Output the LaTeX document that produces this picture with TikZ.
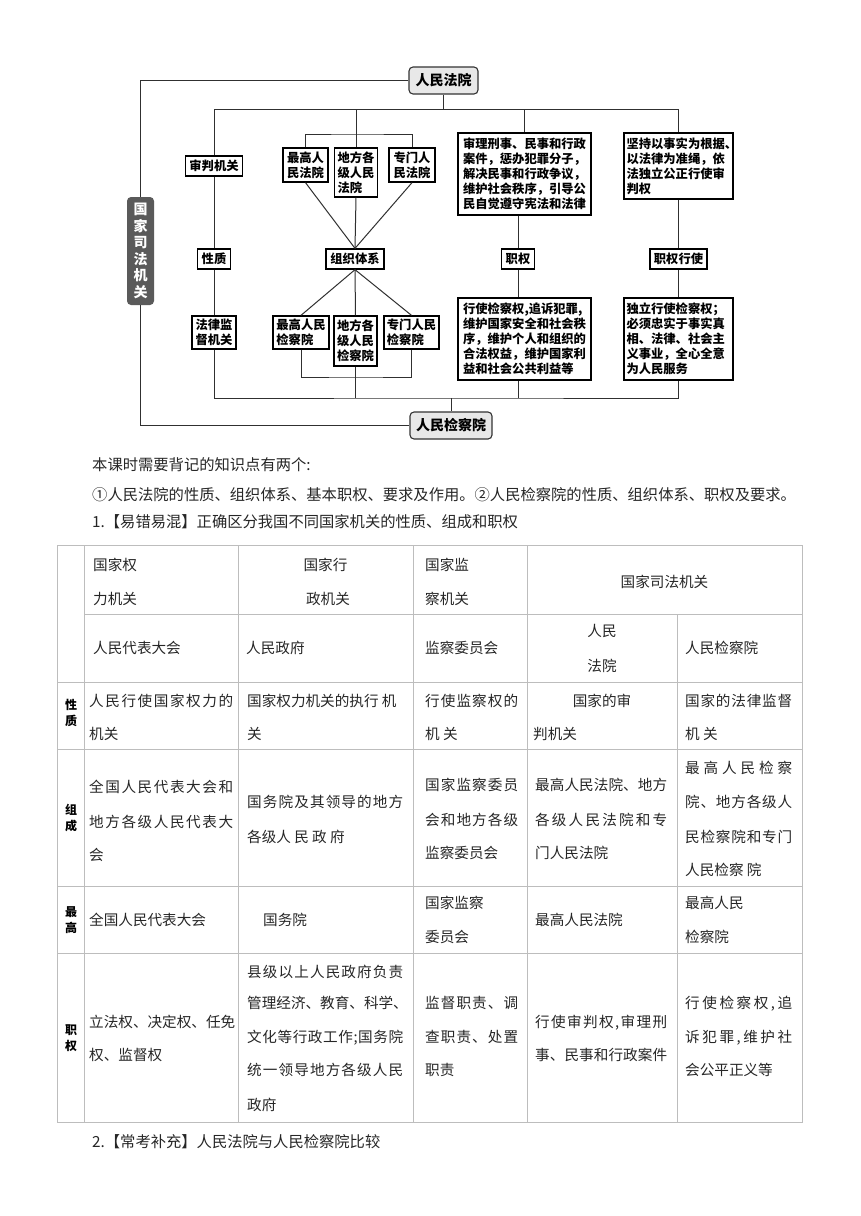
\documentclass[tikz,border=0pt]{standalone}
\usepackage{fontspec}
\setmainfont{Noto Sans CJK SC}
\newcommand\spr[2]{\hbox to #1{\sprA#2\relax}}
\def\sprA#1{#1\sprB}
\def\sprB#1{\ifx\relax#1\else\hfil#1\expandafter\sprB\fi}
\definecolor{tline}{HTML}{BDBDBD}
\definecolor{txt}{HTML}{262626}
\definecolor{conn}{HTML}{303030}
\definecolor{hdrfill}{HTML}{E8E8E8}
\definecolor{darkfill}{HTML}{5A5A5A}
\begin{document}
\begin{tikzpicture}[x=1pt,y=-1pt,
  box/.style={draw=black, line width=1.3pt, align=left, inner sep=0pt, font=\fontsize{12.3}{15}\selectfont\bfseries},
  hdr/.style={draw=black!80, line width=1.1pt, rounded corners=4pt, fill=hdrfill, inner sep=0pt, font=\fontsize{14}{16}\selectfont\bfseries},
  vbox/.style={rounded corners=4pt, fill=darkfill, inner sep=0pt, align=center, text=white, font=\fontsize{14}{16.5}\selectfont\bfseries},
  conn/.style={draw=conn, line width=1pt},
  tl/.style={draw=tline, line width=0.8pt},
  tt/.style={anchor=base west, inner sep=0pt, text=txt, font=\fontsize{14.6}{17}\selectfont},
  ttc/.style={anchor=base, inner sep=0pt, text=txt, font=\fontsize{14.6}{17}\selectfont},
  para/.style={anchor=base west, inner sep=0pt, text=txt, font=\fontsize{15.3}{17}\selectfont},
  lab/.style={align=center, inner sep=0pt, text=black, font=\fontsize{12}{16}\selectfont\bfseries}]
\useasboundingbox (0,0) rectangle (860,1216);
\fill[white] (0,0) rectangle (860,1216);

% ---------------- diagram ----------------
\node[hdr, minimum width=69pt, minimum height=27pt] (fy) at (443.5,80.5) {人民法院};
\node[hdr, minimum width=82pt, minimum height=27pt] (jc) at (451,425.5) {人民检察院};
\node[vbox, minimum width=27pt, minimum height=108pt] (gj) at (140.5,251) {国\\家\\司\\法\\机\\关};

\node[box, minimum width=57pt, minimum height=20pt] (sp) at (214,166) {审判机关};
\node[box, minimum width=45pt, minimum height=34pt] (zg) at (305.5,165) {最高人\\民法院};
\node[box, minimum width=43pt, minimum height=49pt] (df) at (356,172.5) {地方各\\级人民\\法院};
\node[box, minimum width=46pt, minimum height=34pt] (zm) at (412,165) {专门人\\民法院};
\node[box, minimum width=133pt, minimum height=82pt] (sl) at (524.5,174) {审理刑事、民事和行政\\案件，惩办犯罪分子，\\解决民事和行政争议，\\维护社会秩序，引导公\\民自觉遵守宪法和法律};
\node[box, text width=104pt, inner xsep=2.5pt, minimum height=66pt] (jz) at (678.5,166) {坚持以事实为根据、\\以法律为准绳，依\\法独立公正行使审\\判权};

\node[box, minimum width=33pt, minimum height=20pt] (xz) at (214,259) {性质};
\node[box, minimum width=58pt, minimum height=20pt] (zz) at (355,259) {组织体系};
\node[box, minimum width=33pt, minimum height=20pt] (zq) at (518,259) {职权};
\node[box, minimum width=57pt, minimum height=20pt] (zqxs) at (678.5,259) {职权行使};

\node[box, minimum width=44pt, minimum height=33pt] (fl) at (214,332.5) {法律监\\督机关};
\node[box, minimum width=56pt, minimum height=33pt] (zgj) at (301,332.5) {最高人民\\检察院};
\node[box, minimum width=43pt, minimum height=50pt] (dfj) at (355.5,341) {地方各\\级人民\\检察院};
\node[box, minimum width=55pt, minimum height=33pt] (zmj) at (411.5,332.5) {专门人民\\检察院};
\node[box, minimum width=133pt, minimum height=82pt] (xs) at (524.5,339) {行使检察权,追诉犯罪,\\维护国家安全和社会秩\\序，维护个人和组织的\\合法权益，维护国家利\\益和社会公共利益等};
\node[box, text width=104pt, inner xsep=2.5pt, minimum height=82pt] (dl) at (678.5,339) {独立行使检察权；\\必须忠实于事实真\\相、法律、社会主\\义事业，全心全意\\为人民服务};

\coordinate (bus1) at (443.5,109);
\coordinate (org1) at (356,134);
\coordinate (pb) at (355.5,377);
\coordinate (bus2) at (451,398);

\draw[conn] (fy.west) -| (gj.north);
\draw[conn] (gj.south) |- (jc.west);
\draw[conn] (fy.south) -- (bus1);
\draw[conn] (bus1) -| (sp.north);
\draw[conn] (bus1) -| (jz.north);
\draw[conn] (bus1) -| (sl.north);
\draw[conn] (bus1) -| (org1);
\draw[conn] (zg.north) |- (org1) -| (zm.north);
\draw[conn] (org1) -- (df.north);
\draw[conn] (sp.south) -- (xz.north);
\draw[conn] (xz.south) -- (fl.north);
\draw[conn] (zg.south) -- (zz.north);
\draw[conn] (df.south) -- (zz.north);
\draw[conn] (zm.south) -- (zz.north);
\draw[conn] (zz.south) -- (zgj.north);
\draw[conn] (zz.south) -- (dfj.north);
\draw[conn] (zz.south) -- (zmj.north);
\draw[conn] (zq.north |- sl.south) -- (zq.north);
\draw[conn] (zq.south) -- (zq.south |- xs.north);
\draw[conn] (jz.south) -- (zqxs.north);
\draw[conn] (zqxs.south) -- (dl.north);
\draw[conn] (zgj.south) |- (pb) -| (zmj.south);
\draw[conn] (dfj.south) -- (dfj.south |- bus2);
\draw[conn] (fl.south) |- (bus2) -| (dl.south);
\draw[conn] (zq.south |- xs.south) -- (zq.south |- bus2);
\draw[conn] (bus2) -- (jc.north);

% ---------------- paragraphs ----------------
\node[para] (p1) at (92,470) {本课时需要背记的知识点有两个:};
\node[para] (p2) at (92,500) {①人民法院的性质、组织体系、基本职权、要求及作用。②人民检察院的性质、组织体系、职权及要求。};
\node[para] (p3) at (92,527) {1.【易错易混】正确区分我国不同国家机关的性质、组成和职权};
\node[para] (p4) at (92,1147) {2.【常考补充】人民法院与人民检察院比较};

% ---------------- table ----------------
\draw[tl] (57,545) rectangle (802,1122);
\draw[tl] (84,545) -- (84,1122);
\draw[tl] (238,545) -- (238,1122);
\draw[tl] (413,545) -- (413,1122);
\draw[tl] (527,545) -- (527,1122);
\draw[tl] (677,614) -- (677,1122);
\draw[tl] (84,614) -- (802,614);
\draw[tl] (57,682) -- (802,682);
\draw[tl] (57,749) -- (802,749);
\draw[tl] (57,886) -- (802,886);
\draw[tl] (57,953) -- (802,953);

% header row 1
\node[tt] (h1) at (93,570) {国家权};
\node[tt] (h2) at (93,604) {力机关};
\node[ttc] (h3) at (325.5,570) {国家行};
\node[ttc] (h4) at (328,604) {政机关};
\node[tt] (h5) at (425,570) {国家监};
\node[tt] (h6) at (425,604) {察机关};
\node[ttc] (h7) at (664.5,587) {国家司法机关};
% header row 2
\node[tt] (r1) at (93,653) {人民代表大会};
\node[tt] (r2) at (246,653) {人民政府};
\node[tt] (r3) at (425,653) {监察委员会};
\node[ttc] (r4) at (602,636) {人民};
\node[ttc] (r5) at (602,671) {法院};
\node[tt] (r6) at (685,653) {人民检察院};

% labels
\node[lab] (l1) at (71,713) {性\\质};
\node[lab] (l2) at (71,818) {组\\成};
\node[lab] (l3) at (71,920) {最\\高};
\node[lab] (l4) at (71,1038) {职\\权};

% 性质 row
\node[tt] (a1) at (89,706) {\spr{144pt}{人民行使国家权力的}};
\node[tt] (a2) at (89,739) {机关};
\node[tt] (a3) at (247,706) {国家权力机关的执行\ 机};
\node[tt] (a4) at (247,739) {关};
\node[tt] (a5) at (425,706) {\spr{93pt}{行使监察权的}};
\node[tt] (a6) at (425,739) {机\ 关};
\node[ttc] (a7) at (602,706) {国家的审};
\node[tt] (a8) at (533,739) {判机关};
\node[tt] (a9) at (685,706) {\spr{107pt}{国家的法律监督}};
\node[tt] (a10) at (685,739) {机\ 关};

% 组成 row
\node[tt] (b1) at (89,792) {\spr{144pt}{全国人民代表大会和}};
\node[tt] (b2) at (89,827) {\spr{144pt}{地方各级人民代表大}};
\node[tt] (b3) at (89,860) {会};
\node[tt] (b4) at (247,807) {\spr{156pt}{国务院及其领导的地方}};
\node[tt] (b5) at (247,842) {各级人\ 民\ 政\ 府};
\node[tt] (b6) at (425,790) {\spr{93pt}{国家监察委员}};
\node[tt] (b7) at (425,825) {\spr{93pt}{会和地方各级}};
\node[tt] (b8) at (425,858) {监察委员会};
\node[tt] (b9) at (535,790) {\spr{132pt}{最高人民法院、地方}};
\node[tt] (b10) at (535,825) {\spr{132pt}{各级人民法院和专}};
\node[tt] (b11) at (535,858) {门人民法院};
\node[tt] (b12) at (685,773) {\spr{107pt}{最高人民检察}};
\node[tt] (b13) at (685,807) {\spr{107pt}{院、地方各级人}};
\node[tt] (b14) at (685,842) {\spr{107pt}{民检察院和专门}};
\node[tt] (b15) at (685,875) {人民检察\ 院};

% 最高 row
\node[tt] (d1) at (89,925) {全国人民代表大会};
\node[tt] (d2) at (263,925) {国务院};
\node[tt] (d3) at (425,908) {国家监察};
\node[tt] (d4) at (425,942) {委员会};
\node[tt] (d5) at (535,925) {最高人民法院};
\node[tt] (d6) at (685,908) {最高人民};
\node[tt] (d7) at (685,942) {检察院};

% 职权 row
\node[tt] (e1) at (89,1027) {\spr{144pt}{立法权、决定权、任免}};
\node[tt] (e2) at (89,1060) {权、监督权};
\node[tt] (e3) at (247,977) {\spr{156pt}{县级以上人民政府负责}};
\node[tt] (e4) at (247,1008) {\spr{158pt}{管理经济、教育、科学、}};
\node[tt] (e5) at (247,1042) {\spr{156pt}{文化等行政工作;国务院}};
\node[tt] (e6) at (247,1075) {\spr{156pt}{统一领导地方各级人民}};
\node[tt] (e7) at (247,1110) {政府};
\node[tt] (e8) at (425,1008) {\spr{93pt}{监督职责、调}};
\node[tt] (e9) at (425,1042) {\spr{93pt}{查职责、处置}};
\node[tt] (e10) at (425,1075) {职责};
\node[tt] (e11) at (535,1027) {\spr{132pt}{行使审判权,审理刑}};
\node[tt] (e12) at (535,1060) {\spr{132pt}{事、民事和行政案件}};
\node[tt] (e13) at (685,1008) {\spr{107pt}{行使检察权,追}};
\node[tt] (e14) at (685,1042) {\spr{107pt}{诉犯罪,维护社}};
\node[tt] (e15) at (685,1075) {会公平正义等};
\end{tikzpicture}
\end{document}
